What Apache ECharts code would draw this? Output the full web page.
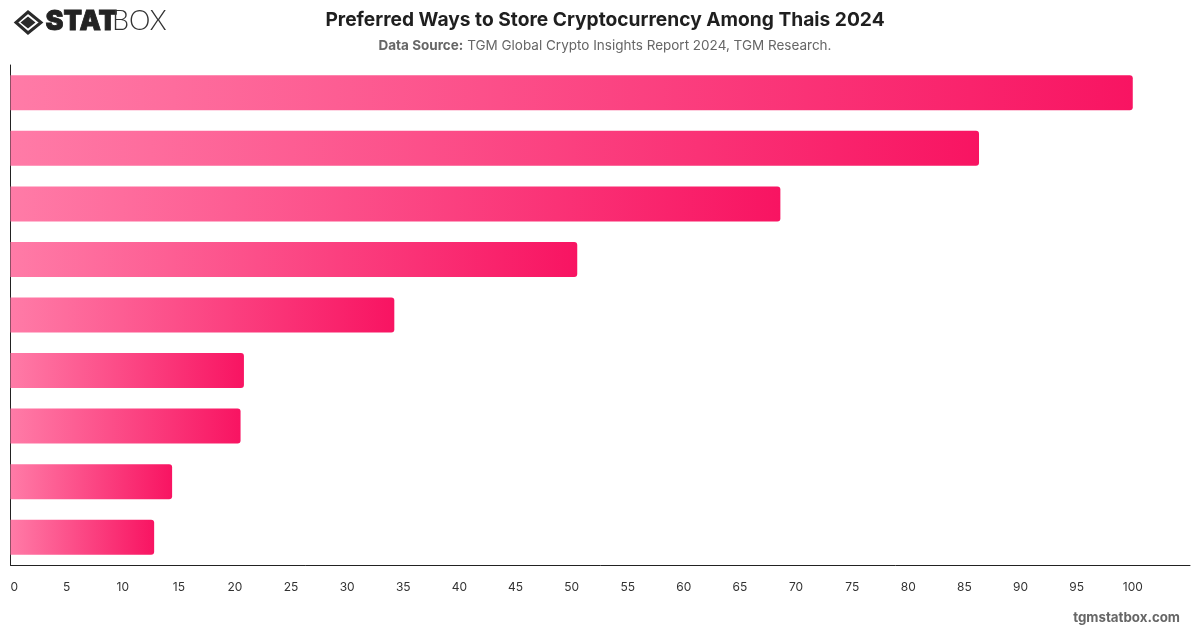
<!DOCTYPE html>
<html>
<head>
<meta charset="utf-8">
<style>html,body{margin:0;padding:0;background:#fff}#chart{width:1200px;height:628px}</style>
<script src="https://cdn.jsdelivr.net/npm/echarts@6/dist/echarts.min.js"></script>
</head>
<body>
<div id="chart"></div>
<script>
// Storage preference shares, largest first
const categories = ['Rank 1', 'Rank 2', 'Rank 3', 'Rank 4', 'Rank 5', 'Rank 6', 'Rank 7', 'Rank 8', 'Rank 9'];
const shares = [100, 86.3, 68.6, 50.5, 34.2, 20.8, 20.5, 14.4, 12.8];
const titleText = 'Preferred Ways to Store Cryptocurrency Among Thais 2024';
const sourceLabel = 'Data Source:';
const sourceText = ' TGM Global Crypto Insights Report 2024, TGM Research.';
const siteText = 'tgmstatbox.com';

const FONT = 'Inter, "Liberation Sans", sans-serif';
const chart = echarts.init(document.getElementById('chart'), null, { renderer: 'canvas' });

chart.setOption({
  animation: false,
  backgroundColor: '#ffffff',
  title: [
    {
      text: titleText,
      left: 600, top: 6, textAlign: 'center',
      textStyle: { fontFamily: FONT, fontSize: 19.2, fontWeight: 700, color: '#1f1f1f' }
    },
    {
      text: '{b|' + sourceLabel + '}{r|' + sourceText + '}',
      left: 600, top: 34, textAlign: 'center',
      textStyle: {
        fontWeight: 400,
        rich: {
          b: { fontFamily: FONT, fontSize: 13.5, fontWeight: 700, color: '#666666' },
          r: { fontFamily: FONT, fontSize: 13.5, fontWeight: 400, color: '#666666' }
        }
      }
    },
    {
      text: siteText,
      right: 15, top: 606,
      textStyle: { fontFamily: FONT, fontSize: 13.3, fontWeight: 700, color: '#666666' }
    }
  ],
  grid: { left: 10.5, top: 65, width: 1179.5, height: 500, outerBoundsMode: 'none' },
  xAxis: {
    type: 'value', min: 0, max: 105.1, interval: 5,
    splitLine: { show: false },
    axisTick: { show: false },
    axisLine: { show: true, lineStyle: { color: '#222222', width: 1 } },
    axisLabel: {
      alignMinLabel: 'left', margin: 16,
      fontFamily: FONT, fontSize: 12, color: '#333333',
      formatter: (v) => (v > 100 ? '' : String(v))
    }
  },
  yAxis: {
    type: 'category', inverse: true, data: categories,
    axisTick: { show: false },
    axisLabel: { show: false },
    axisLine: { show: true, lineStyle: { color: '#222222', width: 1 } }
  },
  series: [{
    type: 'bar',
    data: shares,
    barWidth: 35,
    itemStyle: {
      borderRadius: [0, 3, 3, 0],
      color: new echarts.graphic.LinearGradient(0, 0, 1, 0, [
        { offset: 0, color: '#ff7ba7' },
        { offset: 1, color: '#f81462' }
      ])
    }
  }],
  graphic: [
    // Brand mark: diamond outline around a solid diamond, then the wordmark
    {
      type: 'polygon', silent: true,
      shape: { points: [[28, 12], [41, 22.5], [28, 33], [16, 22.5]] },
      style: { fill: 'none', stroke: '#2a2a2a', lineWidth: 3 }
    },
    {
      type: 'polygon', silent: true,
      shape: { points: [[28, 16.5], [35.5, 22.5], [28, 28.5], [20.5, 22.5]] },
      style: { fill: '#2a2a2a' }
    },
    {
      type: 'text', silent: true, left: 45, top: 8,
      style: { text: 'STAT', fontFamily: 'Inter, sans-serif', fontSize: 27, fontWeight: 900, fill: '#222222', stroke: '#222222', lineWidth: 0.8 }
    },
    {
      type: 'text', silent: true, left: 112, top: 8,
      style: { text: 'BOX', fontFamily: 'Lato, sans-serif', fontSize: 27, fontWeight: 300, fill: '#333333' }
    }
  ]
});
</script>
</body>
</html>
